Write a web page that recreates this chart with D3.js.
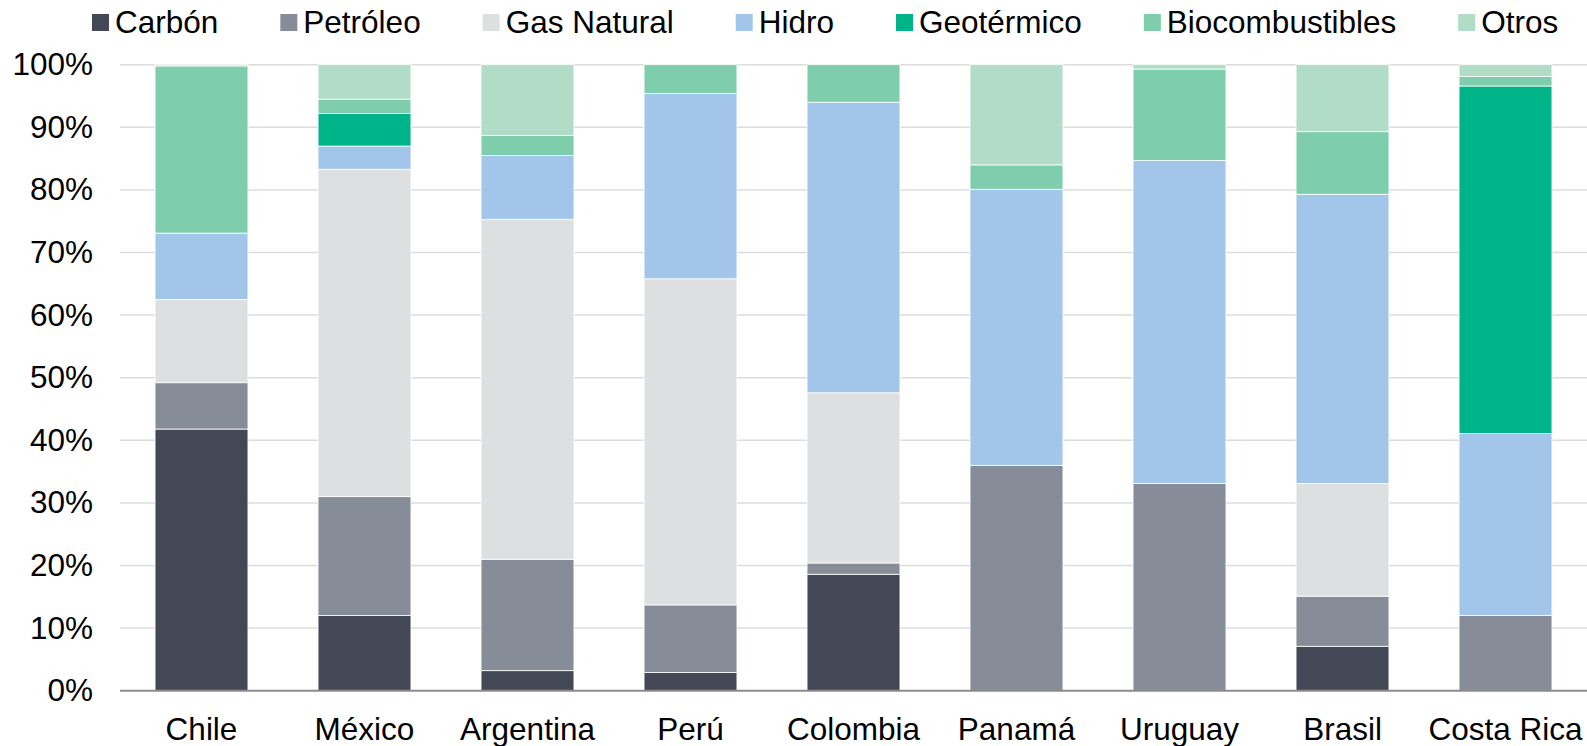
<!DOCTYPE html>
<html>
<head>
<meta charset="utf-8">
<script src="https://cdn.jsdelivr.net/npm/d3@7"></script>
<style>
    body { margin: 0; background: #fff; }
    svg { display: block; font-family: "Liberation Sans", Arial, sans-serif; }
</style>
</head>
<body>
<div id="chart"></div>
<script>
// categories
const countries = ["Chile", "México", "Argentina", "Perú", "Colombia", "Panamá", "Uruguay", "Brasil", "Costa Rica"]

// share of each source, in %
const carbon        = [41.8, 12.0,  3.2,  2.9, 18.6,  0.0,  0.0,  7.1,  0.0]
const petroleo      = [ 7.4, 19.0, 17.8, 10.8,  1.8, 36.0, 33.1,  8.0, 12.0]
const gasNatural    = [13.3, 52.3, 54.3, 52.1, 27.2,  0.0,  0.0, 18.0,  0.0]
const hidro         = [10.6,  3.7, 10.2, 29.6, 46.4, 44.1, 51.6, 46.2, 29.1]
const geotermico    = [ 0.0,  5.2,  0.0,  0.0,  0.0,  0.0,  0.0,  0.0, 55.5]
const biocomb       = [26.7,  2.3,  3.2,  4.6,  6.0,  3.9, 14.6, 10.0,  1.5]
const otros         = [ 0.2,  5.5, 11.3,  0.0,  0.0, 16.0,  0.7, 10.7,  1.9]

const seriesNames = ["Carbón", "Petróleo", "Gas Natural", "Hidro", "Geotérmico", "Biocombustibles", "Otros"]
const seriesValues = [carbon, petroleo, gasNatural, hidro, geotermico, biocomb, otros]
const colors = ["#444756", "#878c99", "#dedfe1", "#a1c6ea", "#00b48a", "#7ecdad", "#b0dcc8"]

const yTicks = [0, 0.1, 0.2, 0.3, 0.4, 0.5, 0.6, 0.7, 0.8, 0.9, 1]

const width = 1587
const height = 746
const marginTop = 64.7      // y of the 100% line
const marginRight = 0
const marginBottom = 55     // 0% line sits at height - marginBottom
const marginLeft = 120
const fontSize = 31.5

// one row per country, values as fractions
const data = countries.map((c, i) => {
    const row = { country: c }
    seriesNames.forEach((s, j) => { row[s] = seriesValues[j][i] / 100 })
    return row
})

const stack = d3.stack().keys(seriesNames)
const stacked = stack(data)

const xScale = d3.scaleBand(countries, [marginLeft, width - marginRight])
    .paddingInner(0.43)
    .paddingOuter(0.215)
const yScale = d3.scaleLinear([0, 1], [height - marginBottom - 0.3, marginTop])
const color = d3.scaleOrdinal(seriesNames, colors)

const svg = d3.select("#chart")
    .append("svg")
    .attr("width", width)
    .attr("height", height)
    .attr("viewBox", [0, 0, width, height])

// grid lines
svg.append("g")
    .selectAll("line")
    .data(yTicks.filter(t => t > 0))
    .join("line")
    .attr("x1", marginLeft)
    .attr("x2", width - marginRight)
    .attr("y1", d => yScale(d))
    .attr("y2", d => yScale(d))
    .attr("stroke", "#dcdcdc")
    .attr("stroke-width", 1.5)

// y axis labels
const yAxis = d3.axisLeft(yScale)
    .tickValues(yTicks)
    .tickFormat(d3.format(".0%"))
    .tickSize(0)
    .tickPadding(0)
svg.append("g")
    .attr("transform", `translate(${marginLeft - 27},0)`)
    .call(yAxis)
    .call(g => g.select(".domain").remove())
    .call(g => g.selectAll("text")
        .attr("fill", "#000")
        .style("font-size", fontSize + "px")
        .style("font-family", "'Liberation Sans', Arial, sans-serif"))

// stacked bars
svg.append("g")
    .selectAll("g")
    .data(stacked)
    .join("g")
    .attr("fill", d => color(d.key))
    .selectAll("rect")
    .data(d => d.filter(p => p[1] - p[0] > 0))
    .join("rect")
    .attr("x", d => xScale(d.data.country))
    .attr("y", d => yScale(d[1]))
    .attr("height", d => yScale(d[0]) - yScale(d[1]))
    .attr("width", xScale.bandwidth())
    .attr("stroke", "#fff")
    .attr("stroke-width", 0.8)

// baseline
svg.append("line")
    .attr("x1", marginLeft)
    .attr("x2", width - marginRight)
    .attr("y1", yScale(0))
    .attr("y2", yScale(0))
    .attr("stroke", "#8c8c8c")
    .attr("stroke-width", 2)

// x axis labels
const xAxis = d3.axisBottom(xScale).tickSize(0).tickPadding(0)
svg.append("g")
    .attr("transform", `translate(0,${height - 6})`)
    .call(xAxis)
    .call(g => g.select(".domain").remove())
    .call(g => g.selectAll("text")
        .attr("fill", "#000")
        .attr("y", 0)
        .attr("dy", 0)
        .style("font-size", fontSize + "px")
        .style("font-family", "'Liberation Sans', Arial, sans-serif"))

// legend
const legend = svg.append("g")
const items = legend.selectAll("g")
    .data(seriesNames)
    .join("g")
items.append("rect")
    .attr("width", 17)
    .attr("height", 17)
    .attr("y", 14)
    .attr("fill", d => color(d))
items.append("text")
    .attr("x", 23)
    .attr("y", 33)
    .style("font-size", fontSize + "px")
    .attr("fill", "#000")
    .text(d => d)

let x = 92
items.each(function () {
    const w = d3.select(this).select("text").node().getComputedTextLength()
    d3.select(this).attr("transform", `translate(${x},0)`)
    x += 23 + w + 62
})
</script>
</body>
</html>
